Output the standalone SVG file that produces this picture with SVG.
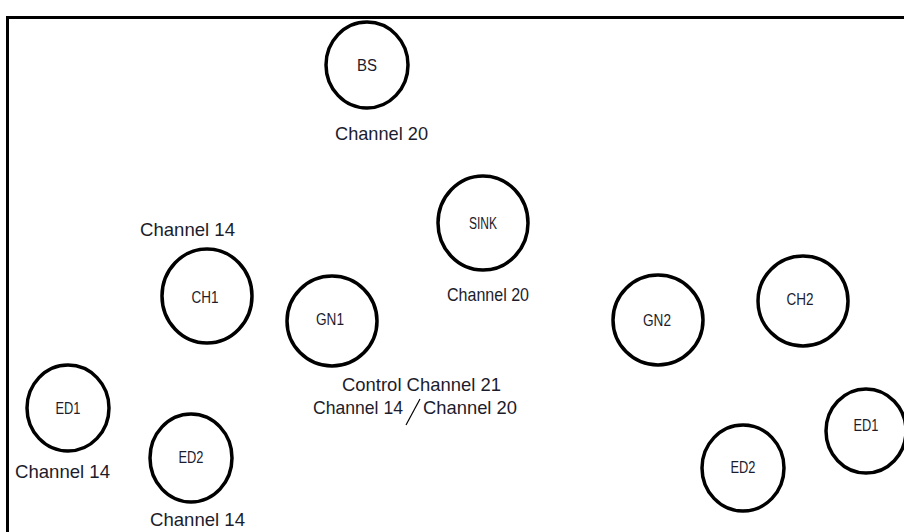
<svg xmlns="http://www.w3.org/2000/svg" width="904" height="532" viewBox="0 0 904 532">
<style>
.n{fill:#fff;stroke:#000;stroke-width:3.5}
.l{font-family:"Liberation Sans",Arial,sans-serif;font-size:16px;fill:#1c1c2c;text-anchor:middle}
.c{font-family:"Liberation Sans",Arial,sans-serif;font-size:19px;fill:#1c1c2c}
</style>
<rect x="0" y="0" width="904" height="532" fill="#fff"/>
<path d="M7.5 532 V17.5 H904" fill="none" stroke="#000" stroke-width="3"/>
<g id="connectors">
<line x1="420" y1="399" x2="406" y2="425" stroke="#000" stroke-width="1.2"/>
</g>
<g id="BS"><ellipse class="n" cx="367" cy="65" rx="41" ry="43"/><text class="l" x="367" y="71" textLength="20" lengthAdjust="spacingAndGlyphs">BS</text></g>
<text class="c" x="335" y="140" textLength="93" lengthAdjust="spacingAndGlyphs">Channel 20</text>
<g id="SINK"><ellipse class="n" cx="483" cy="223" rx="45" ry="47"/><text class="l" x="483" y="229" font-size="15" textLength="28" lengthAdjust="spacingAndGlyphs">SINK</text></g>
<text class="c" x="447" y="301" textLength="82" lengthAdjust="spacingAndGlyphs">Channel 20</text>
<text class="c" x="140" y="236" textLength="95" lengthAdjust="spacingAndGlyphs">Channel 14</text>
<g id="CH1"><ellipse class="n" cx="207" cy="296" rx="45" ry="47"/><text class="l" x="205" y="303" font-size="17" textLength="27" lengthAdjust="spacingAndGlyphs">CH1</text></g>
<g id="GN1"><ellipse class="n" cx="332" cy="321" rx="45" ry="45"/><text class="l" x="330" y="325" font-size="17" textLength="28" lengthAdjust="spacingAndGlyphs">GN1</text></g>
<text class="c" x="342" y="391" textLength="159" lengthAdjust="spacingAndGlyphs">Control Channel 21</text>
<text class="c" x="313" y="414" textLength="90" lengthAdjust="spacingAndGlyphs">Channel 14</text>
<text class="c" x="423" y="414" textLength="94" lengthAdjust="spacingAndGlyphs">Channel 20</text>
<g id="ED1a"><ellipse class="n" cx="68" cy="408" rx="41" ry="43"/><text class="l" x="68" y="414" textLength="25" lengthAdjust="spacingAndGlyphs">ED1</text></g>
<text class="c" x="15" y="478" textLength="95" lengthAdjust="spacingAndGlyphs">Channel 14</text>
<g id="ED2a"><ellipse class="n" cx="191" cy="458" rx="41" ry="44"/><text class="l" x="191" y="463" textLength="25" lengthAdjust="spacingAndGlyphs">ED2</text></g>
<text class="c" x="150" y="526" textLength="95" lengthAdjust="spacingAndGlyphs">Channel 14</text>
<g id="GN2"><ellipse class="n" cx="658" cy="320" rx="45" ry="45"/><text class="l" x="657" y="326" font-size="17" textLength="28" lengthAdjust="spacingAndGlyphs">GN2</text></g>
<g id="CH2"><ellipse class="n" cx="803" cy="301" rx="45" ry="45"/><text class="l" x="800" y="305" font-size="17" textLength="27" lengthAdjust="spacingAndGlyphs">CH2</text></g>
<g id="ED1b"><ellipse class="n" cx="866" cy="431" rx="40" ry="42"/><text class="l" x="866" y="431" textLength="25" lengthAdjust="spacingAndGlyphs">ED1</text></g>
<g id="ED2b"><ellipse class="n" cx="743" cy="468" rx="41" ry="43"/><text class="l" x="743" y="473" textLength="25" lengthAdjust="spacingAndGlyphs">ED2</text></g>
</svg>
